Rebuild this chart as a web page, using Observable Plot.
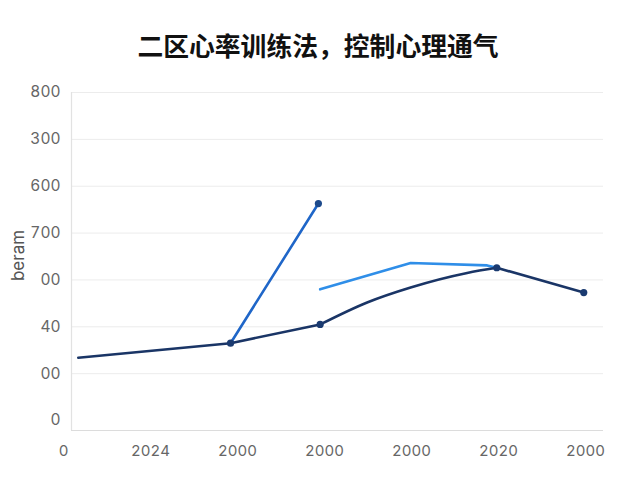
<!DOCTYPE html>
<html>
<head>
<meta charset="utf-8">
<script src="https://cdn.jsdelivr.net/npm/d3@7"></script>
<script src="https://cdn.jsdelivr.net/npm/@observablehq/plot@0.6"></script>
<style>
  body { margin: 0; background: #fff; width: 640px; height: 480px; overflow: hidden; }
  #title { box-sizing: border-box; height: 70px; padding-top: 29px; line-height: 32px; font-size: 25.8px; font-weight: bold; text-align: center; color: #111; font-family: "Noto Sans CJK SC", sans-serif; padding-right: 4px; }
</style>
</head>
<body>
<div id="title"></div>
<div id="chart"></div>
<script>
const titleText = "二区心率训练法，控制心理通气";
const yAxisTitle = "beram";
const xLabels = ["0", "2024", "2000", "2000", "2000", "2020", "2000"];
const yLabels = ["0", "00", "40", "00", "700", "600", "300", "800"];

// series in chart index units (x: tick slot, y: tick slot)
const darkX = [0.17, 1.92, 2.95, 3.49, 3.99, 4.64, 4.98, 5.98];
const darkY = [1.34, 1.65, 2.05, 2.52, 2.84, 3.15, 3.26, 2.73];
const darkMarked = [false, true, true, false, false, false, true, true];

const blueX = [1.92, 2.93];
const blueY = [1.65, 4.63];

const lightX = [2.95, 3.99, 4.87, 4.98];
const lightY = [2.80, 3.36, 3.31, 3.26];

document.getElementById("title").textContent = titleText;

const dark = darkX.map((x, i) => ({x, y: darkY[i], m: darkMarked[i]}));
const blue = blueX.map((x, i) => ({x, y: blueY[i]}));
const light = lightX.map((x, i) => ({x, y: lightY[i]}));

const xTicks = xLabels.map((_, i) => i);
const yTicks = yLabels.map((_, i) => i);
const gridTicks = yTicks.slice(1);

const frameX1 = 0.092, frameX2 = 6.207, frameY0 = -0.213;
const font = "Inter, 'DejaVu Sans', sans-serif";
const darkStyle = {x: "x", y: "y", stroke: "#1a3566", strokeWidth: 2.6};

const chart = Plot.plot({
  width: 640,
  height: 410,
  marginLeft: 63,
  marginRight: 37,
  marginTop: 22,
  marginBottom: 50,
  style: {fontFamily: font, fontSize: "14px", color: "#666", background: "#fff"},
  x: {domain: [0, frameX2]},
  y: {domain: [frameY0, 7]},
  marks: [
    Plot.ruleY(gridTicks, {x1: frameX1, x2: frameX2, stroke: "#ececec", strokeWidth: 1}),
    Plot.ruleY([frameY0], {x1: frameX1, x2: frameX2, stroke: "#dcdcdc", strokeWidth: 1.2}),
    Plot.ruleX([frameX1], {y1: frameY0, y2: 7, stroke: "#e2e2e2", strokeWidth: 1.2}),
    Plot.axisY({ticks: yTicks, tickFormat: i => yLabels[i], tickSize: 0, tickPadding: 3, label: null, fill: "#666", fontSize: 15.5}),
    Plot.axisX({ticks: xTicks, tickFormat: i => xLabels[i], tickSize: 0, tickPadding: 15, label: null, fill: "#666", fontSize: 15}),
    Plot.text([yAxisTitle], {frameAnchor: "left", textAnchor: "middle", dx: -45, dy: -6, rotate: -90, fill: "#555", fontSize: 17, letterSpacing: "1px"}),
    Plot.line(blue, {x: "x", y: "y", stroke: "#1f66c8", strokeWidth: 2.6}),
    Plot.line(light, {x: "x", y: "y", stroke: "#2f8ee8", strokeWidth: 2.6, strokeLinejoin: "round"}),
    Plot.line(dark.slice(0, 3), darkStyle),
    Plot.line(dark.slice(2, 7), {...darkStyle, curve: "monotone-x"}),
    Plot.line(dark.slice(6), darkStyle),
    Plot.dot(dark.filter(d => d.m), {x: "x", y: "y", r: 3.6, fill: "#1a3a70"}),
    Plot.dot(blue.slice(1), {x: "x", y: "y", r: 3.6, fill: "#1d4a8c"})
  ]
});
document.getElementById("chart").appendChild(chart);
</script>
</body>
</html>
